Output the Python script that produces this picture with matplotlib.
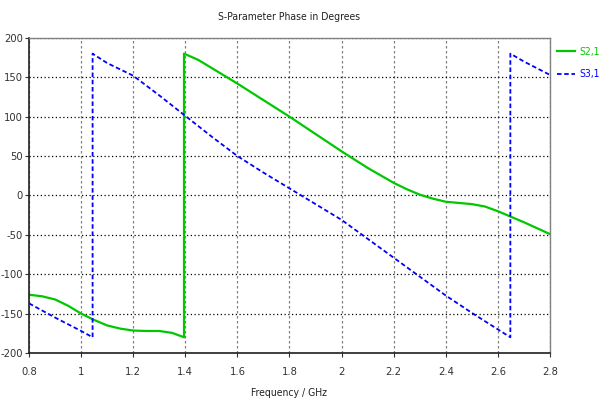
import matplotlib
matplotlib.use("Agg")
import matplotlib.pyplot as plt

freq_s21 = [0.8, 0.85, 0.9, 0.95, 1.0, 1.05, 1.1, 1.15, 1.2, 1.25, 1.3, 1.35, 1.395,
            1.395, 1.45, 1.5, 1.6, 1.7, 1.8, 1.9, 2.0, 2.1, 2.2, 2.25, 2.3, 2.35, 2.4, 2.45, 2.5,
            2.55, 2.6, 2.65, 2.7, 2.8]
phase_s21 = [-126, -128, -132, -140, -150, -158, -165, -169, -171.5, -172, -172, -174.5, -180,
             180, 172, 162, 142, 121, 100, 78, 56, 35, 16, 8, 1, -4, -8, -9.5, -11,
             -14, -20, -27, -34, -49]

freq_s31 = [0.8, 0.9, 1.0, 1.044, 1.044, 1.1, 1.2, 1.3, 1.4, 1.5, 1.6, 1.7, 1.8, 1.9,
            2.0, 2.1, 2.2, 2.3, 2.4, 2.5, 2.6, 2.648, 2.648, 2.7, 2.8]
phase_s31 = [-137, -155, -172, -180, 180, 168, 152, 127, 101, 75, 50, 29, 9, -11,
             -31, -55, -79, -103, -127, -149, -170, -180, 180, 170, 153]

xticks = [0.8, 1.0, 1.2, 1.4, 1.6, 1.8, 2.0, 2.2, 2.4, 2.6, 2.8]
xtick_labels = ["0.8", "1", "1.2", "1.4", "1.6", "1.8", "2", "2.2", "2.4", "2.6", "2.8"]
yticks = [-200, -150, -100, -50, 0, 50, 100, 150, 200]

plt.rcParams['font.family'] = ['DejaVu Sans']
plt.rcParams['font.stretch'] = 'condensed'
plt.rcParams['axes.unicode_minus'] = False

fig = plt.figure(figsize=(6.05, 4.03), dpi=100)
ax = fig.add_axes([0.048, 0.124, 0.861, 0.782])

ax.plot(freq_s21, phase_s21, color='#00c800', lw=1.6, label='S2,1')
ax.plot(freq_s31, phase_s31, color='#0000ff', lw=1.3, ls=(0, (2.5, 1.5)), label='S3,1')

ax.set_xlim(0.8, 2.8)
ax.set_ylim(-200, 200)
ax.set_xticks(xticks)
ax.set_xticklabels(xtick_labels)
ax.set_yticks(yticks)
ax.tick_params(labelsize=8, length=3, colors='#333333', direction='out')
ax.tick_params(axis='y', pad=1.5)
ax.tick_params(axis='x', pad=7)

ax.xaxis.grid(True, color='#808080', ls=(0, (2, 2)), lw=0.9)
ax.yaxis.grid(True, color='#000000', ls=(0, (1, 2)), lw=0.9)

for s in ['left', 'bottom']:
    ax.spines[s].set_color('#202020')
    ax.spines[s].set_linewidth(1.2)
for s in ['top', 'right']:
    ax.spines[s].set_color('#808080')
    ax.spines[s].set_linewidth(1.0)

ax.set_title('S-Parameter Phase in Degrees', fontsize=7.5, pad=13, color='#222222')
ax.set_xlabel('Frequency / GHz', fontsize=7.5, color='#222222', labelpad=8)

leg = ax.legend(loc='upper left', bbox_to_anchor=(1.006, 0.985), frameon=False,
                fontsize=7.5, handlelength=1.7, handletextpad=0.4, borderaxespad=0,
                labelspacing=1.2)
for txt, line in zip(leg.get_texts(), leg.get_lines()):
    txt.set_color(line.get_color())

fig.savefig('out.png', dpi=100)
